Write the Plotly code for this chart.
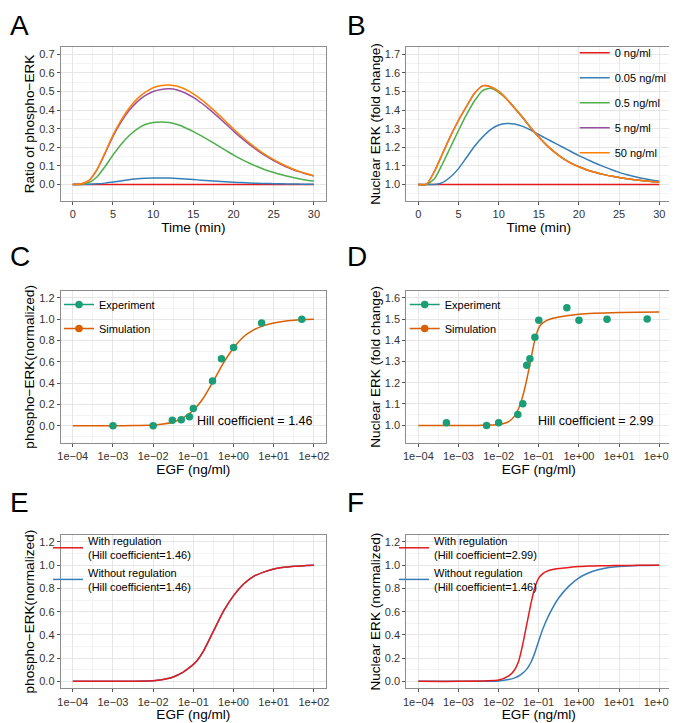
import plotly.graph_objects as go

# ---- data ----
time_min = [0, 1, 2, 3, 4, 5, 6, 7, 8, 9, 10, 11, 12, 13, 14, 15,
            16, 17, 18, 19, 20, 21, 22, 23, 24, 25, 26, 27, 28, 29, 30]
dose_labels = ["0 ng/ml", "0.05 ng/ml", "0.5 ng/ml", "5 ng/ml", "50 ng/ml"]

# A: ratio of phospho-ERK
perk_0 = [0, 0, 0, 0, 0, 0, 0, 0, 0, 0, 0, 0, 0, 0, 0, 0,
          0, 0, 0, 0, 0, 0, 0, 0, 0, 0, 0, 0, 0, 0, 0]
perk_005 = [0, 0, 0.001, 0.003, 0.007, 0.013, 0.019, 0.025, 0.03, 0.033, 0.035, 0.035, 0.034, 0.032, 0.029, 0.026,
            0.023, 0.02, 0.017, 0.014, 0.012, 0.01, 0.008, 0.006, 0.005, 0.004, 0.003, 0.002, 0.002, 0.001, 0.001]
perk_05 = [0, 0, 0.01, 0.04, 0.095, 0.158, 0.215, 0.262, 0.298, 0.322, 0.333, 0.336, 0.333, 0.322, 0.305, 0.284,
           0.261, 0.236, 0.21, 0.184, 0.158, 0.135, 0.114, 0.095, 0.078, 0.064, 0.052, 0.041, 0.032, 0.024, 0.018]
perk_5 = [0, 0.002, 0.02, 0.078, 0.165, 0.258, 0.335, 0.397, 0.444, 0.477, 0.5, 0.511, 0.514, 0.508, 0.492, 0.468,
          0.438, 0.404, 0.366, 0.327, 0.287, 0.249, 0.214, 0.182, 0.153, 0.128, 0.106, 0.087, 0.07, 0.057, 0.045]
perk_50 = [0, 0.002, 0.02, 0.08, 0.17, 0.265, 0.345, 0.41, 0.46, 0.495, 0.52, 0.532, 0.535, 0.528, 0.512, 0.487,
           0.456, 0.42, 0.381, 0.34, 0.298, 0.259, 0.222, 0.189, 0.159, 0.133, 0.11, 0.09, 0.073, 0.059, 0.047]

# B: nuclear ERK (fold change)
nerk_0 = [1, 1, 1, 1, 1, 1, 1, 1, 1, 1, 1, 1, 1, 1, 1, 1,
          1, 1, 1, 1, 1, 1, 1, 1, 1, 1, 1, 1, 1, 1, 1]
nerk_005 = [1, 1, 1.0, 1.01, 1.04, 1.085, 1.145, 1.205, 1.255, 1.295, 1.32, 1.328, 1.325, 1.312, 1.292, 1.268,
            1.245, 1.222, 1.2, 1.177, 1.155, 1.135, 1.115, 1.097, 1.08, 1.065, 1.052, 1.041, 1.032, 1.024, 1.017]
nerk_05 = [1, 1, 1.03, 1.11, 1.2, 1.29, 1.375, 1.45, 1.505, 1.517, 1.495, 1.458, 1.41, 1.358, 1.304, 1.255,
           1.21, 1.172, 1.14, 1.115, 1.095, 1.078, 1.065, 1.054, 1.045, 1.037, 1.03, 1.025, 1.02, 1.016, 1.013]
nerk_5 = [1, 1, 1.07, 1.165, 1.26, 1.345, 1.42, 1.49, 1.53, 1.525, 1.5, 1.46, 1.41, 1.36, 1.305, 1.255,
          1.21, 1.172, 1.14, 1.115, 1.095, 1.078, 1.065, 1.054, 1.045, 1.037, 1.03, 1.025, 1.02, 1.016, 1.013]
nerk_50 = [1, 1, 1.07, 1.165, 1.26, 1.345, 1.42, 1.49, 1.53, 1.525, 1.5, 1.46, 1.41, 1.36, 1.305, 1.255,
           1.21, 1.172, 1.14, 1.115, 1.095, 1.078, 1.065, 1.054, 1.045, 1.037, 1.03, 1.025, 1.02, 1.016, 1.013]

# C: phospho-ERK dose response
egf_c_exp = [0.001, 0.01, 0.03, 0.05, 0.08, 0.1, 0.3, 0.5, 1, 5, 50]
perk_c_exp = [0.0, 0.0, 0.05, 0.056, 0.084, 0.162, 0.42, 0.628, 0.734, 0.964, 1.0]
egf_c_sim = [1e-4, 3.16e-4, 1e-3, 3.16e-3, 1e-2, 1.78e-2, 3.16e-2, 5.62e-2, 0.1, 0.178,
             0.316, 0.562, 1, 1.78, 3.16, 5.62, 10, 31.6, 100]
perk_c_sim = [0, 0, 0, 0.001, 0.006, 0.015, 0.035, 0.075, 0.145, 0.26,
              0.42, 0.59, 0.73, 0.835, 0.9, 0.94, 0.965, 0.99, 1.0]

# D: nuclear ERK dose response
egf_d_exp = [0.0005, 0.005, 0.01, 0.03, 0.04, 0.05, 0.06, 0.08, 0.1, 0.5, 1, 5, 50]
nerk_d_exp = [1.011, 0.998, 1.012, 1.05, 1.101, 1.283, 1.313, 1.415, 1.495, 1.554, 1.495, 1.499, 1.5]
egf_d_sim = [1e-4, 1e-3, 3.16e-3, 1e-2, 1.78e-2, 2.51e-2, 3.16e-2, 3.98e-2, 5.01e-2, 6.31e-2,
             7.94e-2, 0.1, 0.126, 0.178, 0.316, 1, 10, 100]
nerk_d_sim = [0.998, 0.998, 0.999, 1.003, 1.017, 1.044, 1.08, 1.137, 1.215, 1.308,
              1.401, 1.459, 1.482, 1.498, 1.51, 1.523, 1.531, 1.533]

# E/F: normalized responses with / without regulation
egf_ef = [1e-4, 1e-3, 1e-2, 1.78e-2, 2.51e-2, 3.16e-2, 3.98e-2, 5.01e-2, 5.62e-2, 6.31e-2,
          7.94e-2, 0.1, 0.126, 0.178, 0.316, 0.562, 1, 1.78, 3.16, 5.62, 10, 31.6, 100]
perk_e_with = [0, 0, 0.006, 0.016, 0.026, 0.037, 0.052, 0.07, 0.08, 0.092,
               0.118, 0.146, 0.182, 0.26, 0.432, 0.604, 0.738, 0.838, 0.904, 0.94, 0.967, 0.99, 1.0]
perk_e_without = [0, 0, 0.006, 0.016, 0.026, 0.037, 0.052, 0.07, 0.08, 0.092,
                  0.118, 0.146, 0.182, 0.26, 0.432, 0.604, 0.738, 0.838, 0.904, 0.94, 0.967, 0.99, 1.0]
nerk_f_with = [0, 0, 0.011, 0.046, 0.1, 0.175, 0.318, 0.49, 0.576, 0.662,
               0.805, 0.891, 0.928, 0.954, 0.971, 0.98, 0.988, 0.992, 0.995, 0.996, 0.997, 0.999, 1.0]
nerk_f_without = [0, 0, 0.003, 0.015, 0.03, 0.046, 0.07, 0.105, 0.13, 0.16,
                  0.245, 0.35, 0.45, 0.57, 0.72, 0.82, 0.891, 0.935, 0.963, 0.98, 0.989, 0.997, 1.0]

hill_with = [1.46, 2.99]
hill_without = 1.46

egf_ticks = [1e-4, 1e-3, 1e-2, 1e-1, 1, 10, 100]
egf_ticktext = ["1e\u221204", "1e\u221203", "1e\u221202", "1e\u221201", "1e+00", "1e+01", "1e+02"]

# ---- styling ----
set1 = ["#E41A1C", "#377EB8", "#4DAF4A", "#984EA3", "#FF7F00"]
teal = "#1B9E77"
dark_orange = "#D95F02"
FONT = "Liberation Sans, Arial, sans-serif"
# the page body keeps its 8px margin, so the figure starts 8px in
OFF = 8
W, H = 677 - OFF, 723 - OFF


def px_x(x):
    return (x - OFF) / W


def px_y(y):
    return 1 - (y - OFF) / H


def xdom(l, r):
    return [px_x(l), px_x(r)]


def ydom(t, b):
    return [px_y(b), px_y(t)]


fig = go.Figure()

# A
for vals, name, col in zip([perk_0, perk_005, perk_05, perk_5, perk_50], dose_labels, set1):
    fig.add_trace(go.Scatter(x=time_min, y=vals, mode="lines", name=name, showlegend=False,
                             line=dict(color=col, width=1.5, shape="spline", smoothing=0.6),
                             xaxis="x", yaxis="y"))
# B
for i, (vals, name, col) in enumerate(zip([nerk_0, nerk_005, nerk_05, nerk_5, nerk_50], dose_labels, set1)):
    fig.add_trace(go.Scatter(x=time_min, y=vals, mode="lines", name=name, legend="legend",
                             legendgroup="b%d" % i,
                             line=dict(color=col, width=1.5, shape="spline", smoothing=0.6),
                             xaxis="x2", yaxis="y2"))

# C & D
for ax, ex, ey, sx, sy, leg in [("3", egf_c_exp, perk_c_exp, egf_c_sim, perk_c_sim, "legend2"),
                                ("4", egf_d_exp, nerk_d_exp, egf_d_sim, nerk_d_sim, "legend3")]:
    fig.add_trace(go.Scatter(x=sx, y=sy, mode="lines", showlegend=False,
                             line=dict(color=dark_orange, width=1.5, shape="spline", smoothing=0.6),
                             xaxis="x" + ax, yaxis="y" + ax))
    fig.add_trace(go.Scatter(x=ex, y=ey, mode="markers", showlegend=False,
                             marker=dict(color=teal, size=7.5),
                             xaxis="x" + ax, yaxis="y" + ax))
    # legend keys (point + line, as in the original)
    for nm, col, g in [("Experiment", teal, "e"), ("Simulation", dark_orange, "s")]:
        fig.add_trace(go.Scatter(x=[None], y=[None], mode="lines+markers", name=nm, legend=leg,
                                 legendgroup=leg + g,
                                 line=dict(color=col, width=1.5), marker=dict(color=col, size=7.5),
                                 xaxis="x" + ax, yaxis="y" + ax))

# E & F
for ax, wv, wov, hw, leg in [("5", perk_e_with, perk_e_without, hill_with[0], "legend4"),
                             ("6", nerk_f_with, nerk_f_without, hill_with[1], "legend5")]:
    fig.add_trace(go.Scatter(x=egf_ef, y=wov, mode="lines", legend=leg, legendgroup=leg + "b",
                             name="Without regulation<br>(Hill coefficient=%.2f)" % hill_without,
                             line=dict(color=set1[1], width=1.5, shape="spline", smoothing=0.6),
                             xaxis="x" + ax, yaxis="y" + ax))
    fig.add_trace(go.Scatter(x=egf_ef, y=wv, mode="lines", legend=leg, legendgroup=leg + "a",
                             name="With regulation<br>(Hill coefficient=%.2f)" % hw,
                             line=dict(color=set1[0], width=1.5, shape="spline", smoothing=0.6),
                             xaxis="x" + ax, yaxis="y" + ax))

grid = "#E6E6E6"
minor_grid = "#F3F3F3"


def base_axis(**kw):
    d = dict(showline=True, mirror=True, linecolor="#8C8C8C", linewidth=1,
             ticks="outside", ticklen=3, tickcolor="#555555", tickwidth=1,
             showgrid=True, gridcolor=grid, gridwidth=1, zeroline=False,
             tickfont=dict(family=FONT, size=11, color="#333333"),
             title_font=dict(family=FONT, size=13.6, color="black"),
             automargin=False)
    d.update(kw)
    return d


time_x = dict(range=[-1.5, 31.5], tickvals=[0, 5, 10, 15, 20, 25, 30],
              minor=dict(tickvals=[2.5, 7.5, 12.5, 17.5, 22.5, 27.5], showgrid=True,
                         gridcolor=minor_grid, gridwidth=0.6, ticks=""),
              title=dict(text="Time (min)", standoff=0))
log_x = dict(type="log", range=[-4.3, 2.3], tickvals=egf_ticks, ticktext=egf_ticktext,
             minor=dict(tickvals=[10 ** (k + 0.5) for k in range(-5, 2)], showgrid=True,
                        gridcolor=minor_grid, gridwidth=0.6, ticks=""),
             title=dict(text="EGF (ng/ml)", standoff=0))


def lin_y(rng, step, title, fmt=".1f"):
    return dict(range=rng, dtick=step, tick0=0, tickformat=fmt,
                minor=dict(dtick=step / 2, tick0=0, showgrid=True, gridcolor=minor_grid,
                           gridwidth=0.6, ticks=""),
                title=dict(text=title, standoff=1))


fig.update_layout(
    width=W, height=H,
    margin=dict(l=0, r=0, t=0, b=0),
    paper_bgcolor="white", plot_bgcolor="white",
    font=dict(family=FONT, color="black"),
    xaxis=base_axis(domain=xdom(60.7, 326), anchor="y", **time_x),
    yaxis=base_axis(domain=ydom(47.3, 200.7), anchor="x",
                    **lin_y([-0.0875, 0.7375], 0.1, "Ratio of phospho\u2212ERK")),
    xaxis2=base_axis(domain=xdom(406.3, 671.3), anchor="y2", **time_x),
    yaxis2=base_axis(domain=ydom(47.3, 200.7), anchor="x2",
                     **lin_y([0.9125, 1.7375], 0.1, "Nuclear ERK (fold change)")),
    xaxis3=base_axis(domain=xdom(60.7, 326), anchor="y3", **log_x),
    yaxis3=base_axis(domain=ydom(291, 442.7), anchor="x3",
                     **lin_y([-0.16, 1.265], 0.2, "phospho\u2212ERK(normalized)")),
    xaxis4=base_axis(domain=xdom(406.3, 671.3), anchor="y4", **log_x),
    yaxis4=base_axis(domain=ydom(291, 442.7), anchor="x4",
                     **lin_y([0.9175, 1.6325], 0.1, "Nuclear ERK (fold change)")),
    xaxis5=base_axis(domain=xdom(60.7, 326), anchor="y5", **log_x),
    yaxis5=base_axis(domain=ydom(535, 688.3), anchor="x5",
                     **lin_y([-0.06, 1.26], 0.2, "phospho\u2212ERK(normalized)")),
    xaxis6=base_axis(domain=xdom(406.3, 671.3), anchor="y6", **log_x),
    yaxis6=base_axis(domain=ydom(535, 688.3), anchor="x6",
                     **lin_y([-0.06, 1.26], 0.2, "Nuclear ERK (normalized)")),
)

leg_font = dict(family=FONT, size=11, color="black")


def leg(x, top, gap, **kw):
    d = dict(x=px_x(x), y=px_y(top), xanchor="left", yanchor="top", bgcolor="rgba(0,0,0,0)",
             font=leg_font, tracegroupgap=gap)
    d.update(kw)
    return d


fig.update_layout(
    legend=leg(574.7, 38.3, 6),
    legend2=leg(59, 290, 5),
    legend3=leg(404.7, 290, 5),
    legend4=leg(48, 527, 0, traceorder="reversed"),
    legend5=leg(394, 527, 0, traceorder="reversed"),
)

# Hill coefficient labels
fig.add_annotation(x=2.02, y=0.043, xref="x3", yref="y3", text="Hill coefficient = %.2f" % hill_with[0],
                   showarrow=False, xanchor="right", font=dict(family=FONT, size=12.5, color="black"))
fig.add_annotation(x=1.91, y=1.0215, xref="x4", yref="y4", text="Hill coefficient = %.2f" % hill_with[1],
                   showarrow=False, xanchor="right", font=dict(family=FONT, size=12.5, color="black"))

# panel letters
for letter, px, py in [("A", 8, 25), ("B", 345, 25), ("C", 8, 257),
                       ("D", 345, 257), ("E", 8, 502), ("F", 345, 502)]:
    fig.add_annotation(x=px_x(px), y=px_y(py), xref="paper", yref="paper", text=letter,
                       showarrow=False, xanchor="left", yanchor="middle",
                       font=dict(family=FONT, size=28, color="black"))

fig.write_html("out.html")
